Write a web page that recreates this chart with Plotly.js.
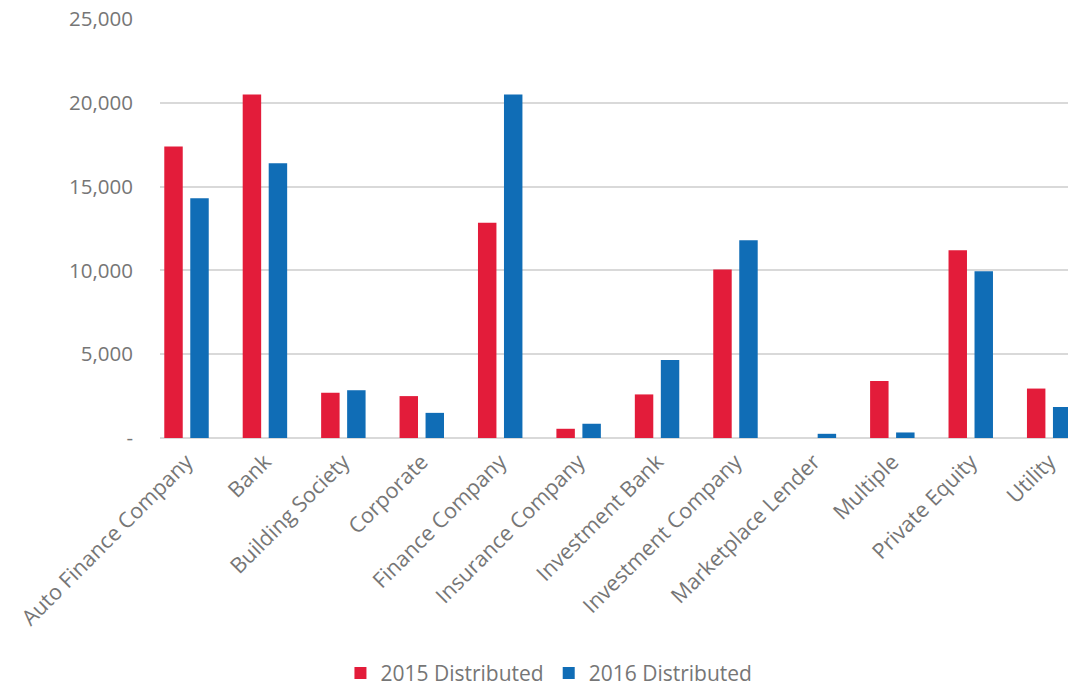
<!DOCTYPE html>
<html>
<head>
<meta charset="utf-8">
<script src="https://cdn.plot.ly/plotly-3.0.1.min.js"></script>
<style>html,body{margin:0;padding:0;background:#fff;}#chart{width:1068px;height:687px;}</style>
</head>
<body>
<div id="chart"></div>
<script>
const categories = ["Auto Finance Company","Bank","Building Society","Corporate","Finance Company","Insurance Company","Investment Bank","Investment Company","Marketplace Lender","Multiple","Private Equity","Utility"];
const values2015 = [17400, 20500, 2700, 2500, 12850, 550, 2600, 10050, 0, 3400, 11200, 2950];
const values2016 = [14300, 16400, 2850, 1500, 20500, 850, 4650, 11800, 250, 330, 9950, 1850];
const seriesNames = ["2015 Distributed", "2016 Distributed"];
const yTickVals = [0, 5000, 10000, 15000, 20000, 25000];
const yTickText = ["-", "5,000", "10,000", "15,000", "20,000", "25,000"];

const fontFam = "'Open Sans', sans-serif";
const textColor = "#767676";

const traces = [
  {type: "bar", name: seriesNames[0], x: categories, y: values2015, marker: {color: "#E31C3A"}},
  {type: "bar", name: seriesNames[1], x: categories, y: values2016, marker: {color: "#106DB6"}}
];

const layout = {
  width: 1068, height: 687,
  margin: {l: 160, r: 0, t: 19, b: 249},
  paper_bgcolor: "#fff", plot_bgcolor: "#fff",
  barmode: "group", bargap: 0.337, bargroupgap: 0.29,
  font: {family: fontFam, size: 20.5, color: textColor},
  xaxis: {
    type: "category", range: [-0.338, 11.24],
    tickangle: -45, showgrid: false, zeroline: false, showline: false,
    ticks: "", ticklabelstandoff: 6,
    tickfont: {family: fontFam, size: 21.5, color: textColor},
    automargin: false
  },
  yaxis: {
    range: [0, 25000], tickvals: yTickVals, ticktext: yTickText,
    showgrid: true, gridcolor: "#d9d9d9", gridwidth: 2,
    zeroline: true, zerolinecolor: "#d9d9d9", zerolinewidth: 2,
    showline: false, ticks: "", ticklabelstandoff: 26,
    tickfont: {family: fontFam, size: 20.5, color: textColor},
    automargin: false
  },
  showlegend: true,
  legend: {
    orientation: "h", xref: "container", yref: "container",
    x: 0.514, xanchor: "center", y: 0.02, yanchor: "middle",
    font: {family: fontFam, size: 21, color: textColor},
    itemwidth: 30, tracegroupgap: 0
  }
};

Plotly.newPlot("chart", traces, layout, {displayModeBar: false, staticPlot: true});
</script>
</body>
</html>
